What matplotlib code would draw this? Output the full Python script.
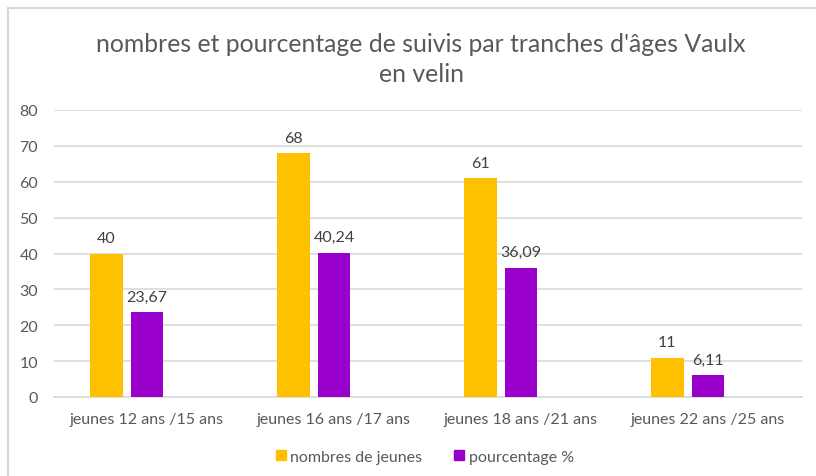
import matplotlib.pyplot as plt
from matplotlib.lines import Line2D
from matplotlib.patches import Patch
import numpy as np

plt.rcParams['font.family'] = ['Lato', 'DejaVu Sans']

categories = ["jeunes 12 ans /15 ans", "jeunes 16 ans /17 ans",
              "jeunes 18 ans /21 ans", "jeunes 22 ans /25 ans"]
nombres = [40, 68, 61, 11]
pourcentage = [23.67, 40.24, 36.09, 6.11]
labels_nombres = ["40", "68", "61", "11"]
labels_pourcentage = ["23,67", "40,24", "36,09", "6,11"]

yellow = '#FFC000'
purple = '#9900CC'
text_col = '#595959'
grid_col = '#D9D9D9'

fig = plt.figure(figsize=(8.16, 4.77), dpi=100)

# chart frame (top + left edge only, like the screenshot)
fig.add_artist(Line2D([8/816, 1], [1 - 9/477, 1 - 9/477], color=grid_col, lw=1.5))
fig.add_artist(Line2D([8/816, 8/816], [0, 1 - 9/477], color=grid_col, lw=1.5))

ax = fig.add_axes([53.5/816, 1 - 398/477, 748/816, 287/477])

x = np.arange(len(categories))
w = 0.176
off = 0.219
b1 = ax.bar(x - off, nombres, w, color=yellow, zorder=3)
b2 = ax.bar(x, pourcentage, w, color=purple, zorder=3)

for rect, lab in zip(b1, labels_nombres):
    ax.annotate(lab, (rect.get_x() + rect.get_width() / 2, rect.get_height()),
                xytext=(0, 6), textcoords='offset points', ha='center', va='bottom',
                fontsize=11.5, color='#404040')
for rect, lab in zip(b2, labels_pourcentage):
    ax.annotate(lab, (rect.get_x() + rect.get_width() / 2, rect.get_height()),
                xytext=(0, 6), textcoords='offset points', ha='center', va='bottom',
                fontsize=11.5, color='#404040')

ax.set_xlim(-0.5, 3.5)
ax.set_ylim(0, 80)
ax.set_yticks(range(0, 81, 10))
ax.set_xticks(x)
ax.set_xticklabels(categories)
ax.yaxis.grid(True, color=grid_col, lw=1.2, zorder=0)
ax.set_axisbelow(True)
for s in ['top', 'right', 'left']:
    ax.spines[s].set_visible(False)
ax.spines['bottom'].set_color(grid_col)
ax.spines['bottom'].set_linewidth(1.2)
ax.tick_params(axis='both', length=0, colors=text_col, labelsize=11.5)
ax.tick_params(axis='x', pad=11)
ax.tick_params(axis='y', pad=11)

fig.text(421/816, 1 - 45/477, "nombres et pourcentage de suivis par tranches d'âges Vaulx",
         ha='center', va='center', fontsize=17.8, color=text_col)
fig.text(421/816, 1 - 75/477, "en velin", ha='center', va='center', fontsize=17.8, color=text_col)

handles = [Patch(color=yellow), Patch(color=purple)]
fig.legend(handles, ["nombres de jeunes", "pourcentage %"], loc='center',
           bbox_to_anchor=(425/816, 1 - 458/477), ncol=2, frameon=False,
           fontsize=11.5, handlelength=0.6, handleheight=0.6, handletextpad=0.3,
           columnspacing=2.0, labelcolor=text_col)

fig.savefig('out.png', dpi=100, facecolor='white')
